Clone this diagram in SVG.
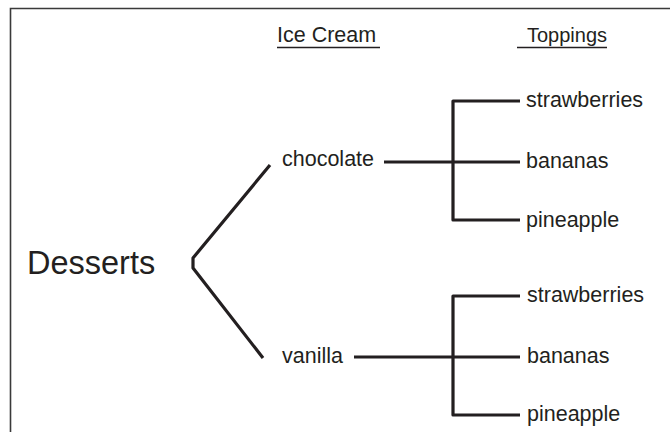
<svg xmlns="http://www.w3.org/2000/svg" width="670" height="432" viewBox="0 0 670 432">
<style>
text{font-family:"Liberation Sans",Arial,Helvetica,sans-serif;fill:#231f20;font-size:21.5px}
.big{font-size:32.5px}
.ln{stroke:#231f20;stroke-width:3.2;fill:none;stroke-linejoin:round}
.ul{stroke:#231f20;stroke-width:1.5}
.frame{stroke:#3a3a3a;stroke-width:1.6;fill:none}
</style>
<rect width="670" height="432" fill="#fff"/>
<path class="frame" d="M10.5 432 V8.5 H670"/>
<g id="header-icecream"><text x="277" y="42">Ice Cream</text><line class="ul" x1="277" y1="47.5" x2="380" y2="47.5"/></g>
<g id="header-toppings"><text x="527" y="42" style="font-size:20px">Toppings</text><line class="ul" x1="517" y1="47.5" x2="607" y2="47.5"/></g>
<g id="desserts"><text class="big" x="27" y="274">Desserts</text></g>
<g id="chocolate"><text x="282" y="166">chocolate</text></g>
<g id="vanilla"><text x="282" y="363">vanilla</text></g>
<g id="choc-strawberries"><text x="526" y="107">strawberries</text></g>
<g id="choc-bananas"><text x="526" y="168">bananas</text></g>
<g id="choc-pineapple"><text x="526" y="227">pineapple</text></g>
<g id="van-strawberries"><text x="527" y="302">strawberries</text></g>
<g id="van-bananas"><text x="527" y="363">bananas</text></g>
<g id="van-pineapple"><text x="527" y="421">pineapple</text></g>
<g id="connectors">
<path class="ln" d="M270 165 L193 258 L193 268 L263 358"/>
<path class="ln" d="M384 162 H520 M520 101 H453 V220 H520"/>
<path class="ln" d="M354 357 H520 M520 296 H453 V415 H520"/>
</g>
</svg>
